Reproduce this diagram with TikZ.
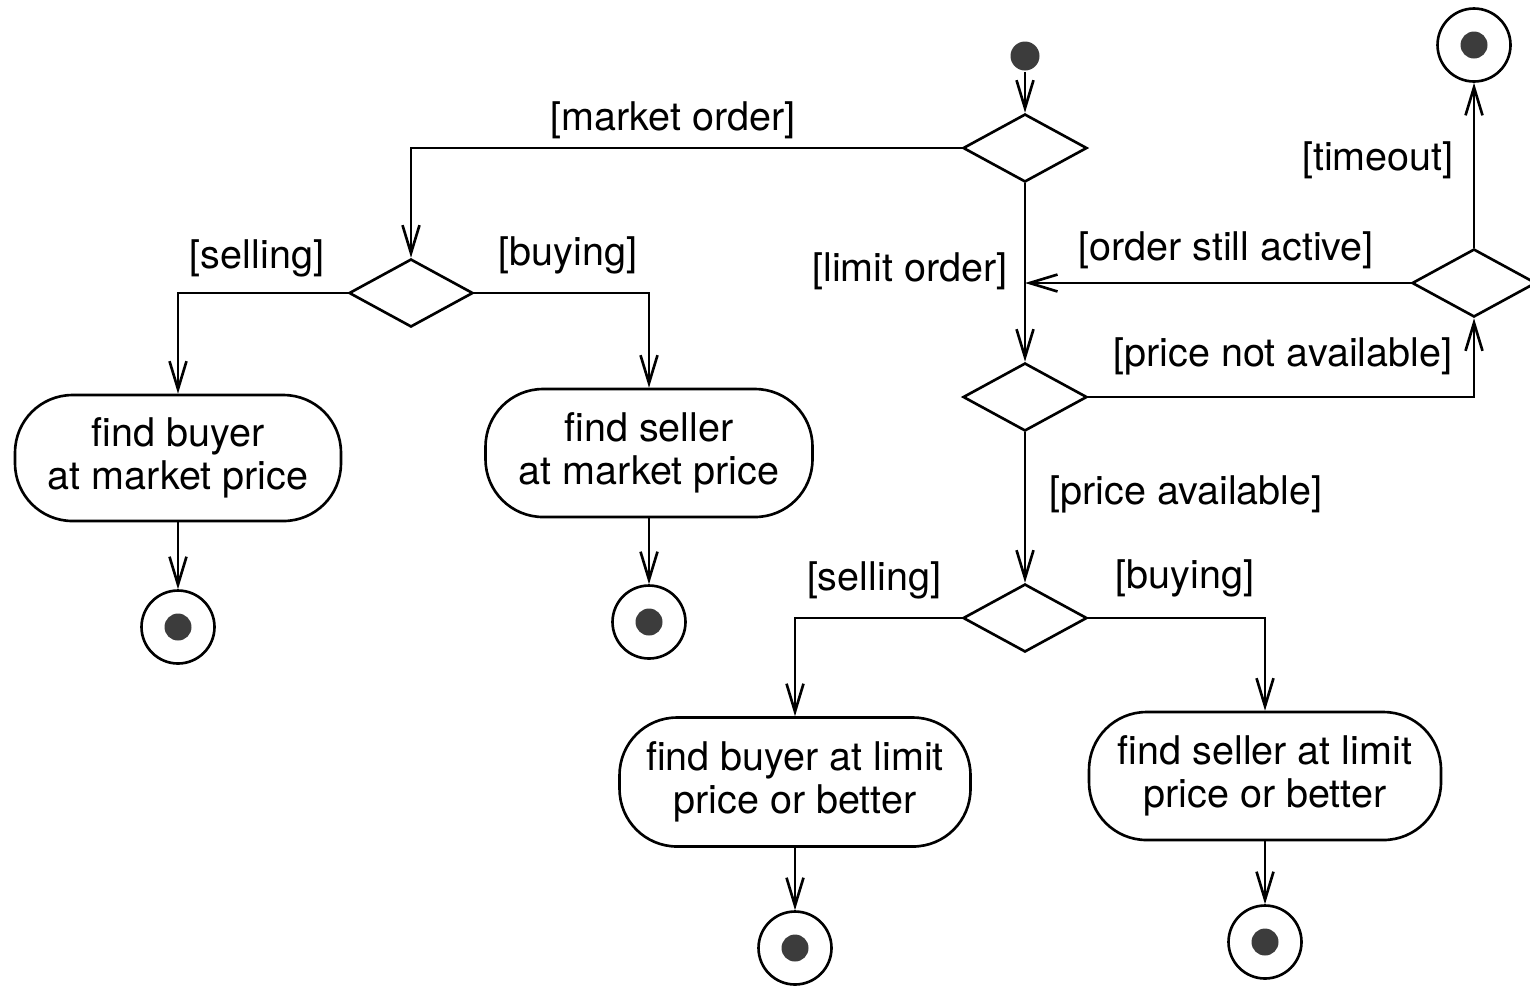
\documentclass[tikz,border=0pt]{standalone}
\usepackage{fontspec}
\setmainfont{TeX Gyre Heros}
\usetikzlibrary{shapes.geometric,arrows.meta}
\definecolor{dotgray}{HTML}{3C3C3C}
\begin{document}
\begin{tikzpicture}[x=0.02cm,y=-0.02cm,
  line width=1.5pt,
  >={Straight Barb[length=0.56cm,width=0.34cm]},
  every node/.style={font=\fontsize{22.5}{24.5}\selectfont},
  decision/.style={draw,diamond,minimum width=2.48cm,minimum height=1.36cm,inner sep=0pt},
  action/.style={draw,rectangle,rounded corners=1.15cm,align=center,inner sep=0pt},
  startnode/.style={circle,fill=dotgray,minimum size=0.58cm,inner sep=0pt},
  endnode/.style={circle,draw,minimum size=1.46cm,inner sep=0pt,
    path picture={\fill[dotgray] (path picture bounding box.center) circle (0.27cm);}},
  guard/.style={inner sep=0pt}
]
\useasboundingbox (0,0) rectangle (1530,985);

% nodes
\node[startnode] (init) at (1025,56) {};
\node[decision] (d1) at (1025,148) {};
\node[decision] (d2) at (411,293) {};
\node[decision] (d3) at (1025,397) {};
\node[decision] (d4) at (1474,283) {};
\node[decision] (d5) at (1025,618) {};

\node[action,minimum width=6.52cm,minimum height=2.52cm] (b1) at (178,458) {find buyer\\at market price};
\node[action,minimum width=6.54cm,minimum height=2.56cm] (b2) at (649,453) {find seller\\at market price};
\node[action,minimum width=7.02cm,minimum height=2.58cm] (b3) at (795,782) {find buyer at limit\\price or better};
\node[action,minimum width=7.04cm,minimum height=2.56cm] (b4) at (1265,776) {find seller at limit\\price or better};

\node[endnode] (f1) at (178,627) {};
\node[endnode] (f2) at (649,622) {};
\node[endnode] (f3) at (795,948) {};
\node[endnode] (f4) at (1265,942) {};
\node[endnode] (f5) at (1474,45) {};

% guards
\node[guard] (gmarket) at (673,120) {[market order]};
\node[guard] (gsell1) at (257,258) {[selling]};
\node[guard] (gbuy1) at (568,255) {[buying]};
\node[guard] (glimit) at (910,271) {[limit order]};
\node[guard] (gactive) at (1226,250) {[order still active]};
\node[guard] (gtimeout) at (1378,160) {[timeout]};
\node[guard] (gnotavail) at (1283,356) {[price not available]};
\node[guard] (gavail) at (1186,494) {[price available]};
\node[guard] (gsell2) at (874,580) {[selling]};
\node[guard] (gbuy2) at (1185,578) {[buying]};

% connectors
\draw[->] (init) -- (d1.north);
\draw[->] (d1.west) -| (d2.north);
\draw[->] (d2.west) -| (b1.north);
\draw[->] (d2.east) -| (b2.north);
\draw[->] (b1.south) -- (f1.north);
\draw[->] (b2.south) -- (f2.north);
\draw[->] (d1.south) -- (d3.north);
\draw[->] (d3.east) -| (d4.south);
\coordinate (join) at (d1.south |- d4.west);
\draw[->] (d4.west) -- (join);
\draw[->] (d4.north) -- (f5.south);
\draw[->] (d3.south) -- (d5.north);
\draw[->] (d5.west) -| (b3.north);
\draw[->] (d5.east) -| (b4.north);
\draw[->] (b3.south) -- (f3.north);
\draw[->] (b4.south) -- (f4.north);
\end{tikzpicture}
\end{document}
